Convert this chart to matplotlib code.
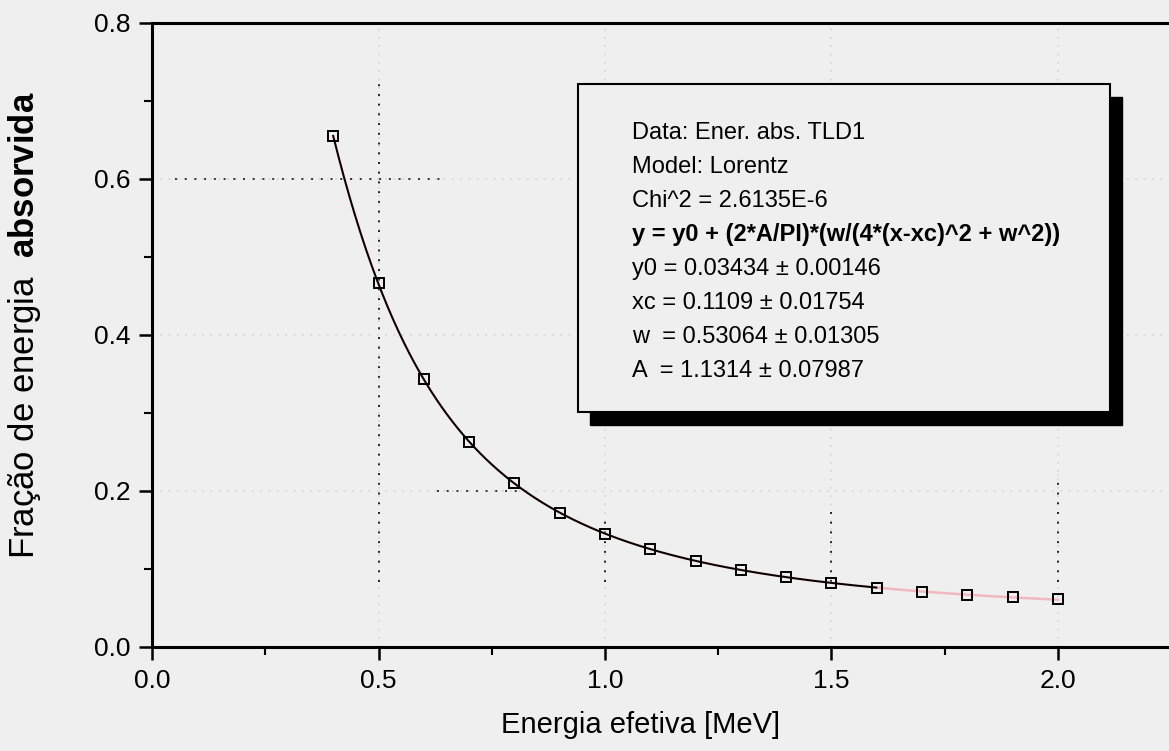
import numpy as np
import matplotlib
matplotlib.use("Agg")
from matplotlib import pyplot as plt
from matplotlib.patches import Rectangle
from matplotlib.ticker import MultipleLocator

plt.rcParams['font.family'] = ['Liberation Sans', 'DejaVu Sans']
plt.rcParams['mathtext.fontset'] = 'custom'
plt.rcParams['mathtext.rm'] = 'Liberation Sans'
plt.rcParams['mathtext.bf'] = 'Liberation Sans:bold'

energy = [0.4, 0.5, 0.6, 0.7, 0.8, 0.9, 1.0, 1.1, 1.2, 1.3, 1.4, 1.5, 1.6, 1.7, 1.8, 1.9, 2.0]
fraction = [0.655, 0.466, 0.343, 0.263, 0.210, 0.172, 0.145, 0.126, 0.110, 0.099,
            0.090, 0.082, 0.076, 0.071, 0.067, 0.064, 0.061]

# Lorentz fit parameters printed in the box
y0 = 0.03434
xc = 0.1109
w = 0.53064
A = 1.1314

box_lines = [
    "Data: Ener. abs. TLD1",
    "Model: Lorentz",
    "Chi^2 = 2.6135E-6",
    "y = y0 + (2*A/PI)*(w/(4*(x-xc)^2 + w^2))",
    "y0 = 0.03434 \u00b1 0.00146",
    "xc = 0.1109 \u00b1 0.01754",
    "w  = 0.53064 \u00b1 0.01305",
    "A  = 1.1314 \u00b1 0.07987",
]

bg = '#efefef'
W, H = 1169, 751

def lorentz(x):
    return y0 + (2 * A / np.pi) * (w / (4 * (x - xc) ** 2 + w ** 2))

fig = plt.figure(figsize=(W / 100, H / 100), dpi=100, facecolor=bg)
ax = fig.add_axes([152 / W, 104 / H, 1 - 152 / W, 624.3 / H])
ax.set_facecolor(bg)
ax.set_xlim(0, 1017 / 453)
ax.set_ylim(0, 0.8)

# dotted grid, faint everywhere and darker where the scan kept it
for xv in [0.5, 1.0, 1.5, 2.0]:
    ax.axvline(xv, color='#d4d4d4', lw=1.2, ls=(0, (1, 4)), zorder=1)
for yv in [0.2, 0.4, 0.6]:
    ax.axhline(yv, color='#d4d4d4', lw=1.2, ls=(0, (1, 4)), zorder=1)
v_dark = [(0.5, 0.083, 0.73), (1.0, 0.083, 0.17), (1.5, 0.083, 0.18), (2.0, 0.083, 0.22)]
for xv, ya, yb in v_dark:
    ax.plot([xv, xv], [ya, yb], color='#222222', lw=1.4, ls=(0, (1, 4)), zorder=2)
h_dark = [(0.6, 0.05, 0.64), (0.2, 0.63, 0.84)]
for yv, xa, xb in h_dark:
    ax.plot([xa, xb], [yv, yv], color='#333333', lw=1.4, ls=(0, (1, 4)), zorder=2)

xs = np.linspace(energy[0], energy[-1], 400)
ax.plot(xs, lorentz(xs), color='#f2b8c2', lw=1.8, zorder=3)
xb = xs[xs <= 1.6]
ax.plot(xb, lorentz(xb), color='black', lw=1.4, zorder=4)
ax.plot(energy, fraction, ls='none', marker='s', ms=6.5, mfc='none',
        mec='black', mew=1.4, zorder=5)

ax.spines['right'].set_visible(False)
for s in ['left', 'top', 'bottom']:
    ax.spines[s].set_linewidth(2.2)

ax.xaxis.set_major_locator(MultipleLocator(0.5))
ax.xaxis.set_minor_locator(MultipleLocator(0.25))
ax.yaxis.set_major_locator(MultipleLocator(0.2))
ax.yaxis.set_minor_locator(MultipleLocator(0.1))
ax.xaxis.set_major_formatter(lambda v, p: f"{v:.1f}")
ax.yaxis.set_major_formatter(lambda v, p: f"{v:.1f}")
ax.tick_params(which='major', direction='out', length=9.5, width=1.8,
               labelsize=19, pad=6)
ax.tick_params(which='minor', direction='out', length=5.5, width=1.5)
ax.tick_params(top=False, right=False, which='both')

ax.set_xlabel("Energia efetiva [MeV]", fontsize=21)
ax.xaxis.set_label_coords(0.48, -0.103)
ax.set_ylabel("Fração de energia  $\\mathbf{absorvida}$", fontsize=25)
ax.yaxis.set_label_coords(-0.107, 0.515)

# fit results box with drop shadow
bx0, by0, bx1, by1 = 578, 84, 1110, 412
shadow = Rectangle(((bx0 + 12) / W, (H - by1 - 13) / H), (bx1 - bx0) / W, (by1 - by0) / H,
                   transform=fig.transFigure, facecolor='black', edgecolor='black',
                   zorder=6, clip_on=False)
box = Rectangle((bx0 / W, (H - by1) / H), (bx1 - bx0) / W, (by1 - by0) / H,
                transform=fig.transFigure, facecolor=bg, edgecolor='black', lw=1.5,
                zorder=7, clip_on=False)
ax.add_artist(shadow)
ax.add_artist(box)
for i, line in enumerate(box_lines):
    yc = 133 + i * 34
    ax.text(632 / W, (H - yc) / H, line, transform=fig.transFigure, fontsize=17,
            va='center', ha='left', zorder=8,
            fontweight='bold' if i == 3 else 'normal')

fig.savefig('out.png', dpi=100, facecolor=bg)
